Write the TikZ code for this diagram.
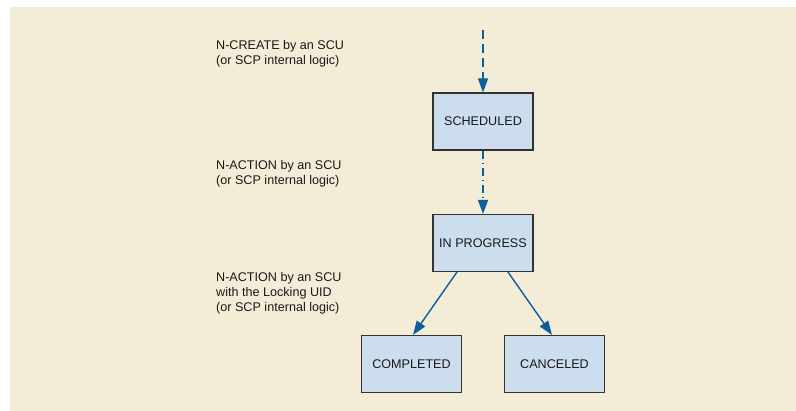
\documentclass[tikz,border=0pt]{standalone}
\usepackage{fontspec}
\setmainfont{Liberation Sans}
\usetikzlibrary{arrows.meta}
\definecolor{bg}{HTML}{F3ECD6}
\definecolor{boxfill}{HTML}{CCDDEE}
\definecolor{boxline}{HTML}{333333}
\definecolor{arr}{HTML}{0D5E9C}
\begin{document}
\begin{tikzpicture}[x=1pt,y=-1pt,
  state/.style={draw=boxline,line width=1.1pt,fill=boxfill,minimum width=100pt,minimum height=57pt,inner sep=0pt,font=\fontsize{12.6}{14}\selectfont,text=black!90},
  lbl/.style={anchor=base west,align=left,inner sep=0pt,font=\fontsize{12.6}{15}\selectfont,text=black!90},
  flow/.style={draw=arr,line width=1.4pt,-{Triangle[length=14pt,width=10pt]}}]
\useasboundingbox (0,0) rectangle (796,411);
\fill[bg] (10,7) rectangle (796,411);
\node[state] (sch) at (483,121.5) {SCHEDULED};
\node[state] (inp) at (483,243) {IN PROGRESS};
\node[state] (com) at (411.5,364) {COMPLETED};
\node[state] (can) at (554.5,364) {CANCELED};
\coordinate (start) at (483,30);
\draw[flow,dash pattern=on 9pt off 5pt] (start) -- (sch.north);
\draw[flow,dash pattern=on 8.5pt off 3.5pt on 1.5pt off 3.5pt] (sch.south) -- (inp.north);
\draw[flow] ([xshift=-26pt]inp.south) -- ([xshift=1.5pt]com.north);
\draw[flow] ([xshift=25pt]inp.south) -- ([xshift=-2.5pt]can.north);
\node[lbl] (l1) at (216,64.5) {N-CREATE by an SCU\\(or SCP internal logic)};
\node[lbl] (l2) at (216,184.5) {N-ACTION by an SCU\\(or SCP internal logic)};
\node[lbl] (l3) at (216,311.5) {N-ACTION by an SCU\\with the Locking UID\\(or SCP internal logic)};
\end{tikzpicture}
\end{document}
